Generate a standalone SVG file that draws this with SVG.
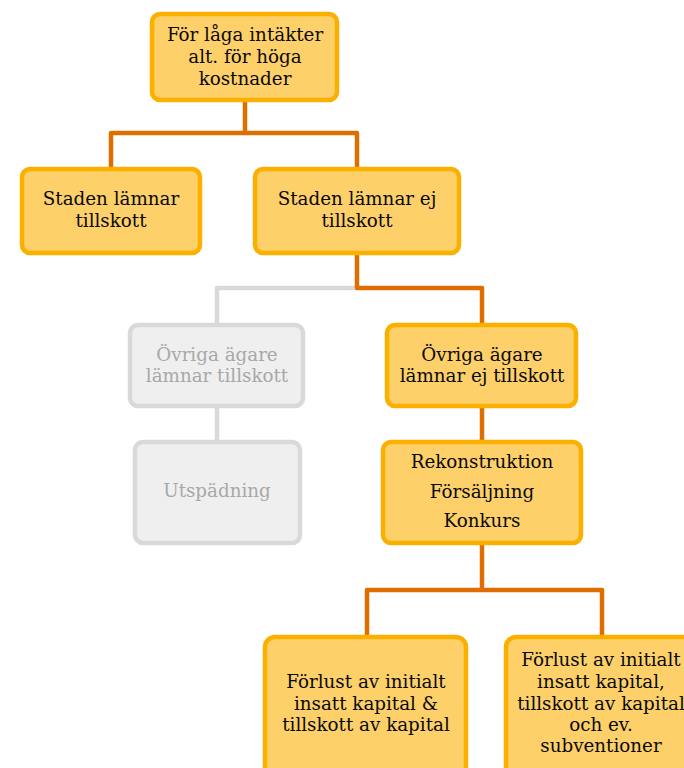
<svg xmlns="http://www.w3.org/2000/svg" width="684" height="768" viewBox="0 0 684 768">
<style>
.box{fill:#FDD069;stroke:#FBB000;stroke-width:4.5}
.gbox{fill:#EFEFEF;stroke:#D9D9D9;stroke-width:4.5}
.t{font-family:"DejaVu Serif","Liberation Serif",serif;font-size:18.3px;fill:#0A0A0A;text-anchor:middle}
.gt{fill:#A8A8A8}
.c{fill:none;stroke:#DE6E00;stroke-width:4.5;stroke-linejoin:round}
.gc{fill:none;stroke:#D9D9D9;stroke-width:4.5;stroke-linejoin:round}
</style>
<rect width="684" height="768" fill="#fff"/>
<g id="connectors">
<path class="c" d="M245 102V133M111 167V133H357V167"/>
<path class="gc" d="M357 288H217V323M217 408V440"/>
<path class="c" d="M357 254V288H482V323M482 408V440M482 545V590M367 635V590H602V635"/>
</g>
<g id="n1"><rect class="box" x="152" y="14" width="185" height="86" rx="8"/>
<text class="t" x="245" y="41">För låga intäkter</text><text class="t" x="245" y="63">alt. för höga</text><text class="t" x="245" y="85">kostnader</text></g>
<g id="n2"><rect class="box" x="22" y="169" width="178" height="84" rx="8"/>
<text class="t" x="111" y="205">Staden lämnar</text><text class="t" x="111" y="227">tillskott</text></g>
<g id="n3"><rect class="box" x="255" y="169" width="204" height="84" rx="8"/>
<text class="t" x="357" y="205">Staden lämnar ej</text><text class="t" x="357" y="227">tillskott</text></g>
<g id="n4"><rect class="gbox" x="130" y="325" width="173" height="81" rx="8"/>
<text class="t gt" x="217" y="361">Övriga ägare</text><text class="t gt" x="217" y="382">lämnar tillskott</text></g>
<g id="n5"><rect class="box" x="387" y="325" width="189" height="81" rx="8"/>
<text class="t" x="482" y="361">Övriga ägare</text><text class="t" x="482" y="382">lämnar ej tillskott</text></g>
<g id="n6"><rect class="gbox" x="135" y="442" width="165" height="101" rx="8"/>
<text class="t gt" x="217" y="497">Utspädning</text></g>
<g id="n7"><rect class="box" x="383" y="442" width="198" height="101" rx="8"/>
<text class="t" x="482" y="468">Rekonstruktion</text><text class="t" x="482" y="498">Försäljning</text><text class="t" x="482" y="527">Konkurs</text></g>
<g id="n8"><rect class="box" x="265" y="637" width="201" height="140" rx="10"/>
<text class="t" x="366" y="688">Förlust av initialt</text><text class="t" x="366" y="710">insatt kapital &amp;</text><text class="t" x="366" y="731">tillskott av kapital</text></g>
<g id="n9"><rect class="box" x="506" y="637" width="200" height="140" rx="10"/>
<text class="t" x="601" y="666">Förlust av initialt</text><text class="t" x="601" y="688">insatt kapital,</text><text class="t" x="601" y="710">tillskott av kapital</text><text class="t" x="601" y="731">och ev.</text><text class="t" x="601" y="752">subventioner</text></g>
</svg>
